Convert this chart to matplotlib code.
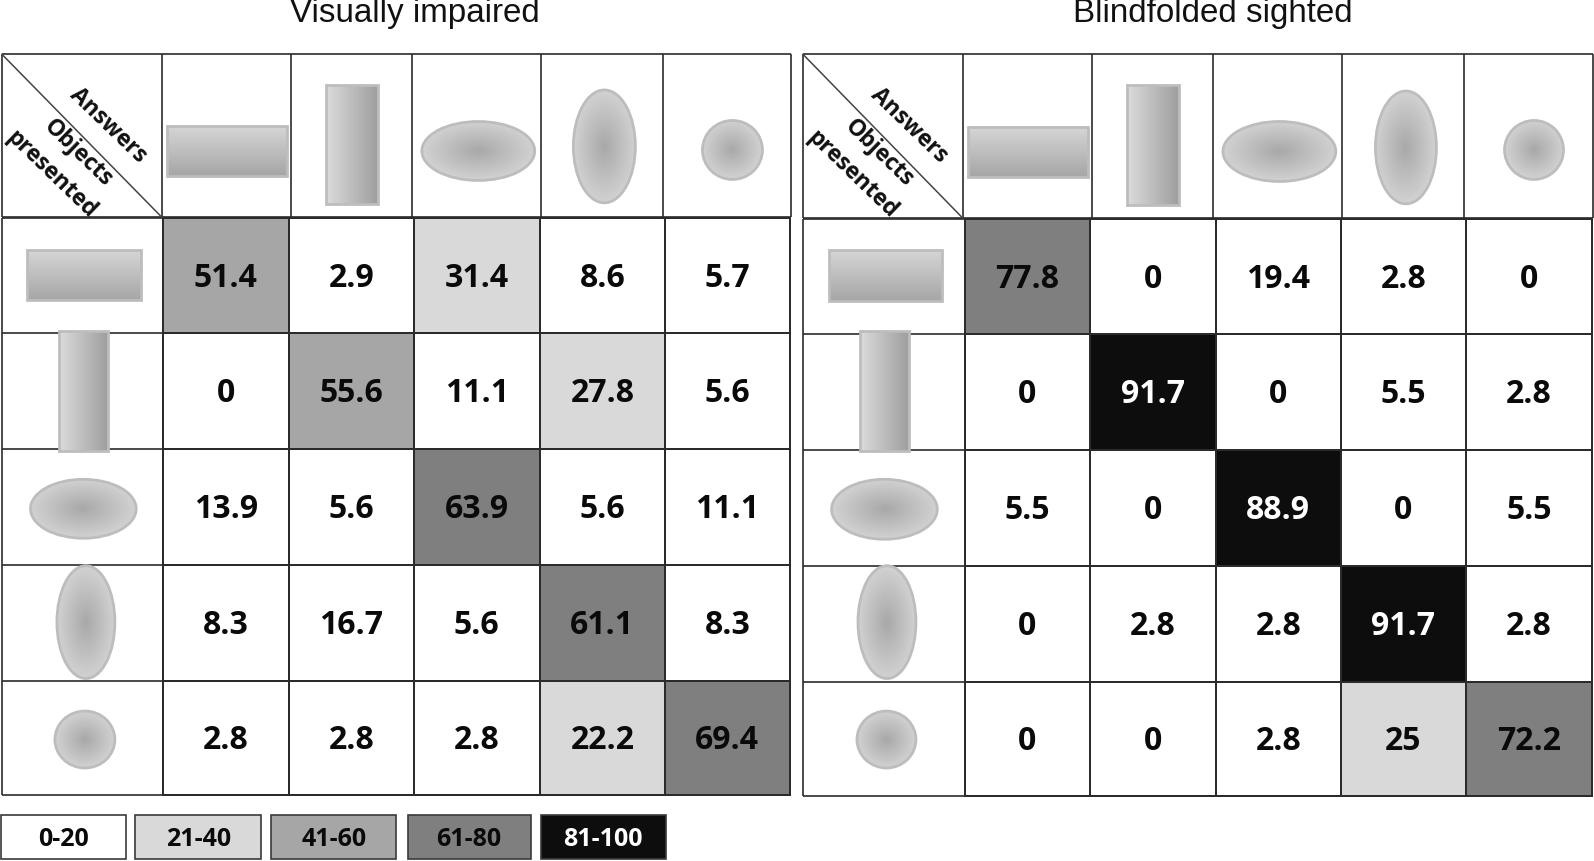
import numpy as np
import matplotlib
matplotlib.use('Agg')
import matplotlib.pyplot as plt
from matplotlib.colors import ListedColormap, BoundaryNorm
from matplotlib.patches import Rectangle, Ellipse

titles = ['Visually impaired', 'Blindfolded sighted']
impaired = [[51.4, 2.9, 31.4, 8.6, 5.7],
            [0, 55.6, 11.1, 27.8, 5.6],
            [13.9, 5.6, 63.9, 5.6, 11.1],
            [8.3, 16.7, 5.6, 61.1, 8.3],
            [2.8, 2.8, 2.8, 22.2, 69.4]]
sighted = [[77.8, 0, 19.4, 2.8, 0],
           [0, 91.7, 0, 5.5, 2.8],
           [5.5, 0, 88.9, 0, 5.5],
           [0, 2.8, 2.8, 91.7, 2.8],
           [0, 0, 2.8, 25, 72.2]]
legend_labels = ['0-20', '21-40', '41-60', '61-80', '81-100']
bounds = [0, 20.5, 40.5, 60.5, 80.5, 100]
colors = ['#ffffff', '#d9d9d9', '#a6a6a6', '#7f7f7f', '#0d0d0d']
shapes = ['hrect', 'vrect', 'ellipse', 'ellipse', 'ellipse']

fig = plt.figure(figsize=(15.94, 8.62), dpi=100)
ax = fig.add_axes([0, 0, 1, 1])
ax.axis('off')
cmap = ListedColormap(colors)
norm = BoundaryNorm(bounds, cmap.N)
bold = ['Open Sans', 'DejaVu Sans']
line = '#2b2b2b'


def gradient(kind, n=80):
    y, x = np.mgrid[-1:1:n*1j, -1:1:n*1j]
    if kind == 'hrect':
        return 0.84 - 0.19*(y+1)/2
    if kind == 'vrect':
        return 0.86 - 0.24*(x+1)/2
    return 0.66 + 0.16*np.clip(np.hypot(x, y), 0, 1)


def icon(kind, x0, x1, y0, y1):
    x0, x1, y0, y1 = x0+1, x1-1, y0+1, y1-1
    im = ax.imshow(gradient(kind), extent=[x0, x1, y1, y0], cmap='gray',
                   vmin=0, vmax=1, zorder=2, aspect='auto', interpolation='bilinear')
    if kind == 'ellipse':
        p = Ellipse(((x0+x1)/2, (y0+y1)/2), x1-x0, y1-y0)
    else:
        p = Rectangle((x0, y0), x1-x0, y1-y0)
    p.set(fc='none', ec='#bdbdbd', lw=2.0, zorder=3)
    ax.add_patch(p)
    im.set_clip_path(p)


def panel(title, vals, tx, hx, bx, lx, hy, by, head_icons, row_icons):
    ax.text(tx, 13, title, ha='center', va='center', fontsize=23.9,
            family='Liberation Sans', color='#111111')
    arr = np.array(vals)
    # body heatmap
    ax.pcolormesh(bx, by, arr, cmap=cmap, norm=norm, edgecolors=line, linewidth=1.2, zorder=1)
    for i, row in enumerate(vals):
        for j, v in enumerate(row):
            ax.text((bx[j]+bx[j+1])/2, (by[i]+by[i+1])/2+1.5, str(v), ha='center', va='center',
                    fontsize=23, fontweight='bold', family=bold,
                    color='white' if v > 80 else '#0a0a0a', zorder=4)
    # header row and row labels
    ax.hlines(hy, hx[0], hx[-1], color=line, lw=1.2)
    ax.vlines(hx, hy[0], hy[1], color=line, lw=1.2)
    ax.hlines(by, lx[0], lx[1], color=line, lw=1.2)
    ax.vlines(lx[0], by[0], by[-1], color=line, lw=1.2)
    ax.plot([hx[0], hx[1]], hy, color='#444444', lw=1.1)
    for kind, box in zip(shapes, head_icons):
        icon(kind, *box)
    for kind, box in zip(shapes, row_icons):
        icon(kind, *box)
    x = hx[0]
    y = hy[0]
    for s, dx, dy in [('Answers', 104, 69), ('Objects', 75, 96), ('presented', 48, 117)]:
        ax.text(x+dx, y+dy, s, rotation=-44, ha='center', va='center', fontsize=16.5,
                fontweight='bold', family=bold, color='#111111', rotation_mode='anchor')


head_left = [(163, 283, 123, 175), (320, 373, 83, 202), (414, 527, 119, 179),
             (563, 626, 88, 201), (690, 751, 118, 178)]
rows_left = [(26, 140, 245, 297), (57, 107, 325, 445), (29, 135, 471, 531),
             (55, 114, 556, 669), (53, 114, 699, 757)]
head_right = [(951, 1071, 124, 176), (1108, 1161, 83, 203), (1202, 1315, 119, 180),
              (1352, 1414, 89, 202), (1479, 1539, 118, 178)]
rows_right = [(814, 928, 245, 298), (845, 895, 325, 445), (817, 923, 471, 532),
              (843, 902, 556, 669), (842, 902, 699, 757)]

panel(titles[0], impaired, 408, [2, 159, 286, 405, 532, 652, 778],
      [160, 284, 407, 531, 654, 777], [2, 160], [54, 214],
      [215, 328, 442, 556, 670, 783], head_left, rows_left)
panel(titles[1], sighted, 1193, [790, 947, 1074, 1193, 1320, 1440, 1567],
      [949, 1072, 1196, 1319, 1442, 1566], [790, 949], [54, 215],
      [216, 329, 443, 557, 671, 784], head_right, rows_right)

# legend boxes
leg_x0 = [1, 133, 267, 401, 532]
leg_x1 = [124, 257, 390, 522, 655]
for lab, c, a, b in zip(legend_labels, colors, leg_x0, leg_x1):
    ax.add_patch(Rectangle((a, 802), b-a, 44, fc=c, ec='#3a3a3a', lw=1.2))
    ax.text((a+b)/2, 825, lab, ha='center', va='center', fontsize=18, fontweight='bold',
            family=bold, color='white' if c == colors[-1] else '#0a0a0a')

ax.set_xlim(0, 1568)
ax.set_ylim(847.5, -0.5)
fig.savefig('out.png', dpi=100)
